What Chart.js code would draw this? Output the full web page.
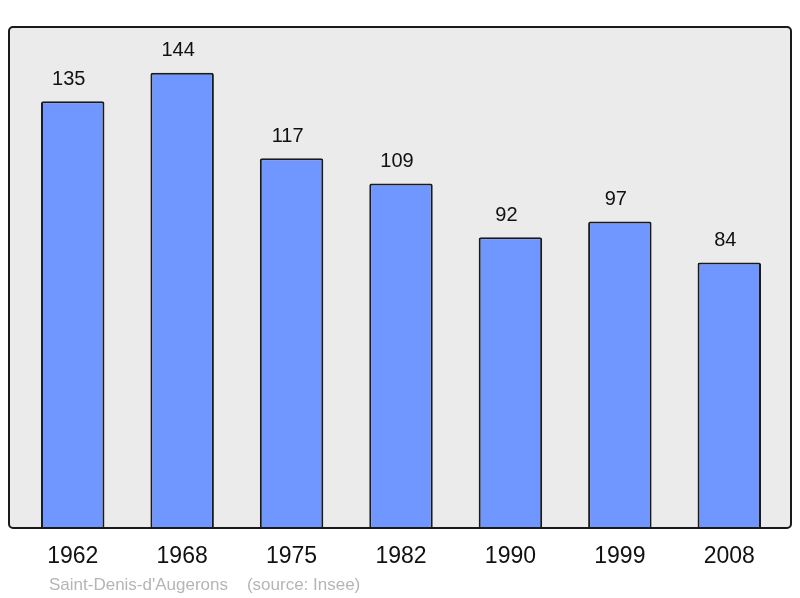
<!DOCTYPE html>
<html>
<head>
<meta charset="utf-8">
<script src="https://cdn.jsdelivr.net/npm/chart.js@4"></script>
<style>
  body { margin: 0; background: #fff; }
  #wrap { width: 800px; height: 598px; }
</style>
</head>
<body>
<div id="wrap"><canvas id="pop" width="800" height="598"></canvas></div>
<script>
// data
var years = ['1962', '1968', '1975', '1982', '1990', '1999', '2008'];
var population = [135, 144, 117, 109, 92, 97, 84];
var footer = "Saint-Denis-d'Augerons    (source: Insee)";

var font = '"Liberation Sans", Arial, sans-serif';

// grey frame behind the bars + labels
var framePlugin = {
  id: 'frame',
  beforeDraw: function (chart) {
    var c = chart.ctx;
    c.save();
    c.beginPath();
    c.roundRect(9, 27, 782, 501, 4);
    c.fillStyle = '#ebebeb';
    c.fill();
    c.restore();
  },
  afterDatasetsDraw: function (chart) {
    var c = chart.ctx;
    c.save();
    c.beginPath();
    c.roundRect(9, 27, 782, 501, 4);
    c.lineWidth = 2;
    c.strokeStyle = '#1a1a1a';
    c.stroke();

    var meta = chart.getDatasetMeta(0);
    c.fillStyle = '#111';
    c.textAlign = 'center';
    c.textBaseline = 'middle';
    meta.data.forEach(function (bar, i) {
      c.font = '20px ' + font;
      c.fillText(String(population[i]), bar.x - 4, bar.y - 22);
      c.font = '23px ' + font;
      c.fillText(years[i], bar.x, 557);
    });
    c.textAlign = 'left';
    c.font = '17px ' + font;
    c.fillStyle = '#b5b5b5';
    c.fillText(footer, 49, 585);
    c.restore();
  }
};

var ctx = document.getElementById('pop').getContext('2d');
var chart = new Chart(ctx, {
  type: 'bar',
  data: {
    labels: years,
    datasets: [{
      data: population,
      backgroundColor: '#7096ff',
      borderColor: '#1a1a1a',
      borderWidth: 2,
      borderRadius: 2,
      borderSkipped: 'bottom',
      barPercentage: 0.58,
      categoryPercentage: 1
    }]
  },
  options: {
    responsive: false,
    animation: false,
    layout: { padding: { left: 18, right: 16, top: 27, bottom: 70 } },
    plugins: { legend: { display: false }, tooltip: { enabled: false } },
    scales: {
      x: { display: false },
      y: { display: false, min: 0, max: 158.5 }
    }
  },
  plugins: [framePlugin]
});
</script>
</body>
</html>
